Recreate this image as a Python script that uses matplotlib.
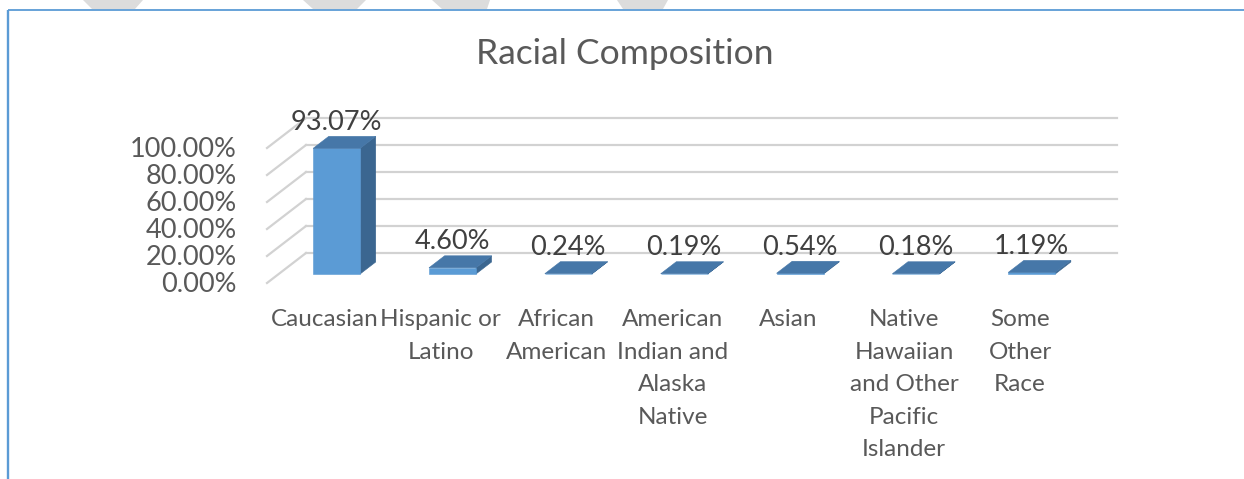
import numpy as np
import matplotlib.pyplot as plt
from matplotlib.patches import Polygon

plt.rcParams['font.family'] = ['Lato', 'DejaVu Sans']

categories = ["Caucasian", "Hispanic or\nLatino", "African\nAmerican",
              "American\nIndian and\nAlaska\nNative", "Asian",
              "Native\nHawaiian\nand Other\nPacific\nIslander",
              "Some\nOther\nRace"]
values = [93.07, 4.60, 0.24, 0.19, 0.54, 0.18, 1.19]
yticks = [0, 20, 40, 60, 80, 100]
ytick_labels = ["0.00%", "20.00%", "40.00%", "60.00%", "80.00%", "100.00%"]

W, H = 1244, 479
fig = plt.figure(figsize=(W / 100, H / 100), dpi=100)

# page decoration: blue frame and faint watermark bits at the top
bg = fig.add_axes([0, 0, 1, 1], zorder=-1)
bg.set_xlim(0, W)
bg.set_ylim(H, 0)
bg.axis('off')
for shape in [[(83, 0), (143, 0), (135, 9), (92, 9)],
              [(303, 0), (366, 0), (357, 9), (313, 9)],
              [(432, 0), (490, 0), (487, 9), (442, 9)],
              [(617, 0), (668, 0), (663, 9), (623, 9)]]:
    bg.add_patch(Polygon(shape, closed=True, color='#DCDCDC', lw=0))
bg.plot([8, W], [9.8, 9.8], color='#5B9BD5', lw=1.3, solid_capstyle='butt')
bg.plot([7.8, 7.8], [9.8, H], color='#5B9BD5', lw=1.7, solid_capstyle='butt')

# front plane of the 3d box (pixels)
left, right, bottom, top = 267, 1078, 283, 148
ax = fig.add_axes([left / W, 1 - bottom / H, (right - left) / W, (bottom - top) / H])
n = len(values)
ax.set_xlim(-0.5, n - 0.5)
ax.set_ylim(0, 100)
ax.axis('off')

# depth of the box converted to data units
px_x = (right - left) / n
px_y = (bottom - top) / 100
dX = 39 / px_x
dY = 30 / px_y

grid_c = '#D2D2D2'
for v in yticks:
    ax.plot([-0.5, -0.5 + dX], [v, v + dY], color=grid_c, lw=1.6,
            clip_on=False, zorder=1)
    ax.plot([-0.5 + dX, n - 0.5 + dX], [v + dY, v + dY], color=grid_c, lw=1.6,
            clip_on=False, zorder=1)

for v, lab in zip(yticks, ytick_labels):
    ax.annotate(lab, xy=(-0.5, v), xytext=(-30, -1.5), textcoords='offset pixels',
                ha='right', va='center', fontsize=19.5, color='#595959',
                annotation_clip=False)

front_c, top_c, side_c = '#5B9BD5', '#4677A8', '#3B6690'
hw = 0.2028
f1, f2 = 0.3, 0.7
for i, v in enumerate(values):
    x0, x1 = i - hw, i + hw
    fa = [(x0 + f1 * dX, f1 * dY), (x1 + f1 * dX, f1 * dY),
          (x1 + f1 * dX, v + f1 * dY), (x0 + f1 * dX, v + f1 * dY)]
    tp = [(x0 + f1 * dX, v + f1 * dY), (x1 + f1 * dX, v + f1 * dY),
          (x1 + f2 * dX, v + f2 * dY), (x0 + f2 * dX, v + f2 * dY)]
    sd = [(x1 + f1 * dX, f1 * dY), (x1 + f2 * dX, f2 * dY),
          (x1 + f2 * dX, v + f2 * dY), (x1 + f1 * dX, v + f1 * dY)]
    for poly, c in [(sd, side_c), (fa, front_c), (tp, top_c)]:
        ax.add_patch(Polygon(poly, closed=True, facecolor=c, edgecolor=c,
                             lw=0.4, clip_on=False, zorder=3))
    ax.annotate(f"{v:.2f}%", xy=(i + f1 * dX, v + f2 * dY), xytext=(0, 14),
                textcoords='offset pixels', ha='center', va='center',
                fontsize=19.5, color='#404040', zorder=4, annotation_clip=False)
    ax.annotate(categories[i], xy=(i, 0), xytext=(0, -26), textcoords='offset pixels',
                ha='center', va='top', fontsize=17.5, color='#595959',
                linespacing=1.68, annotation_clip=False)

fig.text(625 / W, 1 - 54 / H, "Racial Composition", ha='center', va='center',
         fontsize=25.5, color='#595959')

fig.savefig('out.png', dpi=100, facecolor='white')
